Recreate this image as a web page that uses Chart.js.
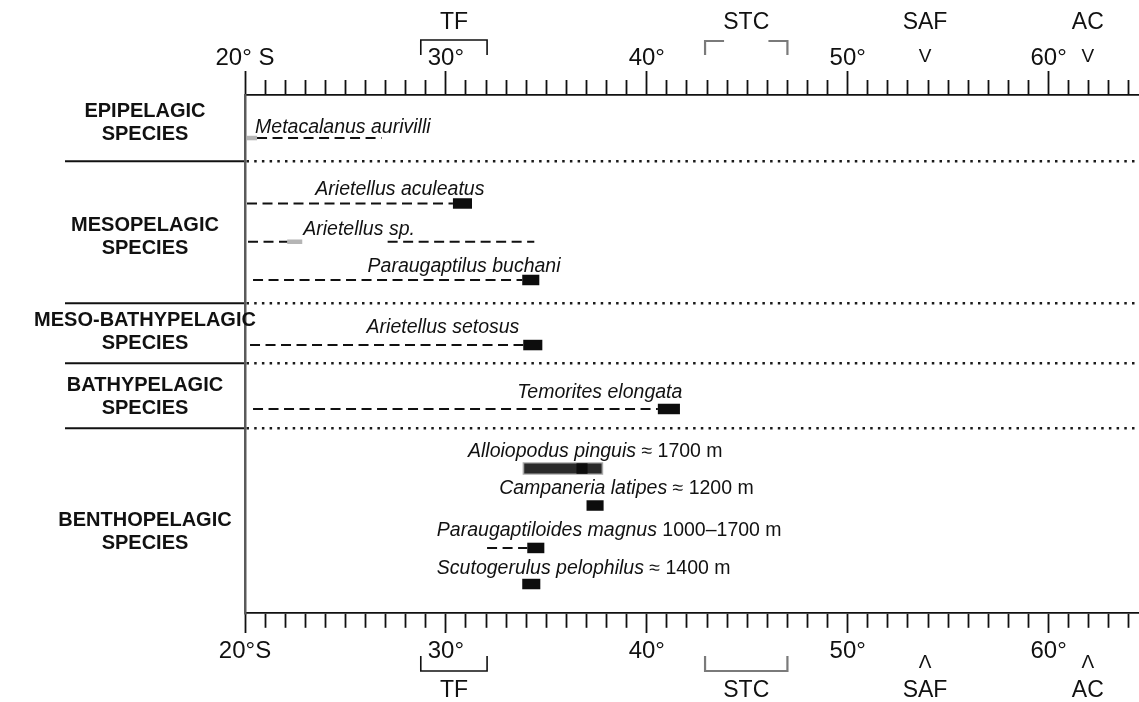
<!DOCTYPE html>
<html>
<head>
<meta charset="utf-8">
<title>Latitudinal ranges of arietellid copepods</title>
<script src="https://cdn.jsdelivr.net/npm/chart.js@4.4.0/dist/chart.umd.min.js"></script>
<style>
  html, body { margin: 0; padding: 0; background: #fff; }
  #wrap { width: 1139px; height: 702px; }
</style>
</head>
<body>
<div id="wrap"><canvas id="rangeChart" width="1139" height="702"></canvas></div>
<script>
// x = latitude (degrees S), y = row position (0 at top axis, 52 at bottom axis)
const species = ['Metacalanus aurivilli', 'Arietellus aculeatus', 'Arietellus sp.', 'Paraugaptilus buchani',
    'Arietellus setosus', 'Temorites elongata', 'Alloiopodus pinguis', 'Campaneria latipes',
    'Paraugaptiloides magnus', 'Scutogerulus pelophilus'];
const depthNotes = ['', '', '', '', '', '', '≈ 1700 m', '≈ 1200 m', '1000–1700 m', '≈ 1400 m'];
const speciesRow = [4.32, 10.89, 14.73, 18.57, 25.1, 31.52, 37.5, 41.21, 45.47, 49.09];
const labelRow = [3.31, 9.54, 13.55, 17.27, 23.39, 29.92, 35.84, 39.55, 43.77, 47.58];
const labelLat = [20.5, 23.5, 22.9, 26.1, 26.05, 33.55, 31.1, 32.65, 29.55, 29.55];

// dashed parts of the ranges (species index, from, to)
const dashSpecies = [0, 1, 2, 2, 3, 4, 5, 8];
const dashFrom = [20.6, 20.1, 20.15, 27.1, 20.4, 20.25, 20.4, 32.05];
const dashTo = [26.8, 30.35, 22.1, 34.4, 33.8, 33.85, 40.55, 34.05];

// solid records
const boxSpecies = [1, 3, 4, 5, 6, 7, 8, 9];
const boxFrom = [30.35, 33.8, 33.85, 40.55, 36.5, 37.0, 34.05, 33.8];
const boxTo = [31.3, 34.65, 34.8, 41.65, 37.05, 37.85, 34.9, 34.7];

// smeared band (Alloiopodus) and faint grey records
const bandSpecies = [6];
const bandFrom = [33.9];
const bandTo = [37.75];
const greySpecies = [0, 2];
const greyFrom = [20.1, 22.1];
const greyTo = [20.6, 22.85];

const groupNames = [['EPIPELAGIC', 'SPECIES'], ['MESOPELAGIC', 'SPECIES'], ['MESO-BATHYPELAGIC', 'SPECIES'],
    ['BATHYPELAGIC', 'SPECIES'], ['BENTHOPELAGIC', 'SPECIES']];
const groupRow = [2.81, 14.3, 23.84, 30.27, 43.82];
const separatorRow = [6.63, 20.88, 26.9, 33.48];

const fronts = ['TF', 'STC', 'SAF', 'AC'];
const frontFrom = [28.75, 42.9, 53.85, 61.95];
const frontTo = [32.05, 47.0, 53.85, 61.95];

const majorLat = [20, 30, 40, 50, 60];
const topTickLabels = ['20° S', '30°', '40°', '50°', '60°'];
const bottomTickLabels = ['20°S', '30°', '40°', '50°', '60°'];

const FONT = '"Liberation Sans", Arial, Helvetica, sans-serif';

function segment(row, from, to) {
    return [{x: from, y: row}, {x: to, y: row}];
}

const datasets = [];
greyFrom.forEach((from, i) => {
    datasets.push({
        data: segment(speciesRow[greySpecies[i]], from, greyTo[i]),
        borderColor: '#b5b5b5', borderWidth: 4.5, borderCapStyle: 'butt', order: 4
    });
});
dashFrom.forEach((from, i) => {
    datasets.push({
        data: segment(speciesRow[dashSpecies[i]], from, dashTo[i]),
        borderColor: '#111', borderWidth: 2, borderDash: [10, 5.5], borderCapStyle: 'butt', order: 3
    });
});
bandFrom.forEach((from, i) => {
    datasets.push({
        data: segment(speciesRow[bandSpecies[i]], from - 0.08, bandTo[i] + 0.08),
        borderColor: '#a8a8a8', borderWidth: 12.5, borderCapStyle: 'butt', order: 2
    });
    datasets.push({
        data: segment(speciesRow[bandSpecies[i]], from, bandTo[i]),
        borderColor: '#2a2a2a', borderWidth: 10, borderCapStyle: 'butt', order: 1
    });
});
boxFrom.forEach((from, i) => {
    datasets.push({
        data: segment(speciesRow[boxSpecies[i]], from, boxTo[i]),
        borderColor: '#0d0d0d', borderWidth: 10.5, borderCapStyle: 'butt', order: 0
    });
});
datasets.forEach(d => {
    d.showLine = true;
    d.pointRadius = 0;
    d.fill = false;
});

const labelsPlugin = {
    id: 'labelsPlugin',
    afterDraw(chart) {
        const ctx = chart.ctx;
        const xs = chart.scales.x;
        const xt = chart.scales.xTop;
        const ys = chart.scales.y;
        ctx.save();
        ctx.fillStyle = '#111';
        ctx.textBaseline = 'middle';

        // group labels in the left margin
        ctx.font = 'bold 20px ' + FONT;
        ctx.textAlign = 'center';
        groupNames.forEach((lines, i) => {
            const w = Math.max(...lines.map(t => ctx.measureText(t).width));
            const cx = Math.max(145, 13 + w / 2);
            const cy = ys.getPixelForValue(groupRow[i]);
            ctx.fillText(lines[0], cx, cy - 11.5);
            ctx.fillText(lines[1], cx, cy + 11.5);
        });

        // species names
        ctx.textAlign = 'left';
        species.forEach((name, i) => {
            const px = xs.getPixelForValue(labelLat[i]);
            const py = ys.getPixelForValue(labelRow[i]);
            ctx.font = 'italic 19.5px ' + FONT;
            ctx.fillText(name, px, py);
            if (depthNotes[i]) {
                const w = ctx.measureText(name + ' ').width;
                ctx.font = '19.5px ' + FONT;
                ctx.fillText(depthNotes[i], px + w, py);
            }
        });

        // fronts above and below the axes
        const topY = xt.bottom;
        const botY = xs.top;
        fronts.forEach((name, i) => {
            const a = xt.getPixelForValue(frontFrom[i]);
            const b = xt.getPixelForValue(frontTo[i]);
            const c = (a + b) / 2;
            const faint = name === 'STC';
            ctx.font = '23px ' + FONT;
            ctx.textAlign = 'center';
            ctx.fillStyle = '#111';
            ctx.fillText(name, c, topY - 72);
            ctx.fillText(name, c, botY + 78);
            if (a === b) {
                ctx.font = '19px ' + FONT;
                ctx.fillText('V', c, topY - 38);
                ctx.fillText('Λ', c, botY + 50);
                return;
            }
            ctx.strokeStyle = faint ? '#7a7a7a' : '#111';
            ctx.lineWidth = faint ? 2.2 : 1.6;
            ctx.beginPath();
            if (faint) {
                ctx.moveTo(a, topY - 40); ctx.lineTo(a, topY - 54); ctx.lineTo(a + 19, topY - 54);
                ctx.moveTo(b - 19, topY - 54); ctx.lineTo(b, topY - 54); ctx.lineTo(b, topY - 40);
            } else {
                ctx.moveTo(a, topY - 40); ctx.lineTo(a, topY - 55); ctx.lineTo(b, topY - 55); ctx.lineTo(b, topY - 40);
            }
            ctx.moveTo(a, botY + 43); ctx.lineTo(a, botY + 58); ctx.lineTo(b, botY + 58); ctx.lineTo(b, botY + 43);
            ctx.stroke();
        });
        ctx.restore();
    }
};

function tickLabel(list) {
    return function(value) {
        const idx = majorLat.indexOf(value);
        return idx >= 0 ? list[idx] : '';
    };
}

const latAxis = (position, labels, tickLen, minorDash, padding) => ({
    type: 'linear',
    position: position,
    min: 20,
    max: 64.5,
    afterFit: s => { s.height = position === 'top' ? 95 : 89; },
    ticks: {
        stepSize: 1,
        includeBounds: false,
        autoSkip: false,
        maxRotation: 0,
        padding: padding,
        color: '#111',
        font: { family: FONT, size: 24, lineHeight: 1 },
        callback: tickLabel(labels)
    },
    grid: {
        drawOnChartArea: false,
        drawTicks: true,
        tickLength: tickLen,
        tickWidth: 1.8,
        tickColor: '#111',
        tickBorderDash: ctx => (ctx.tick && ctx.tick.value % 10 === 0) ? [] : minorDash
    },
    border: { display: true, color: '#111', width: 1.8 }
});

const chartCtx = document.getElementById('rangeChart').getContext('2d');
new Chart(chartCtx, {
    type: 'scatter',
    data: { datasets: datasets },
    options: {
        responsive: false,
        animation: false,
        devicePixelRatio: 1,
        layout: { padding: 0 },
        scales: {
            x: latAxis('bottom', bottomTickLabels, 20, [14, 100], 6),
            xTop: latAxis('top', topTickLabels, 24, [0, 9, 15, 100], 1),
            y: {
                type: 'linear',
                reverse: true,
                min: 0,
                max: 52,
                afterBuildTicks: s => { s.ticks = separatorRow.map(v => ({value: v})); },
                afterFit: s => { s.width = 245; },
                ticks: { display: false },
                grid: {
                    color: '#1a1a1a',
                    lineWidth: 2.5,
                    drawTicks: true,
                    tickLength: 180,
                    tickWidth: 2,
                    tickColor: '#111',
                    tickBorderDash: []
                },
                border: { display: true, color: '#5a5a5a', width: 2.5, dash: [2.5, 5.2] }
            }
        },
        plugins: {
            legend: { display: false },
            tooltip: { enabled: false },
            title: { display: false }
        }
    },
    plugins: [labelsPlugin]
});
</script>
</body>
</html>
